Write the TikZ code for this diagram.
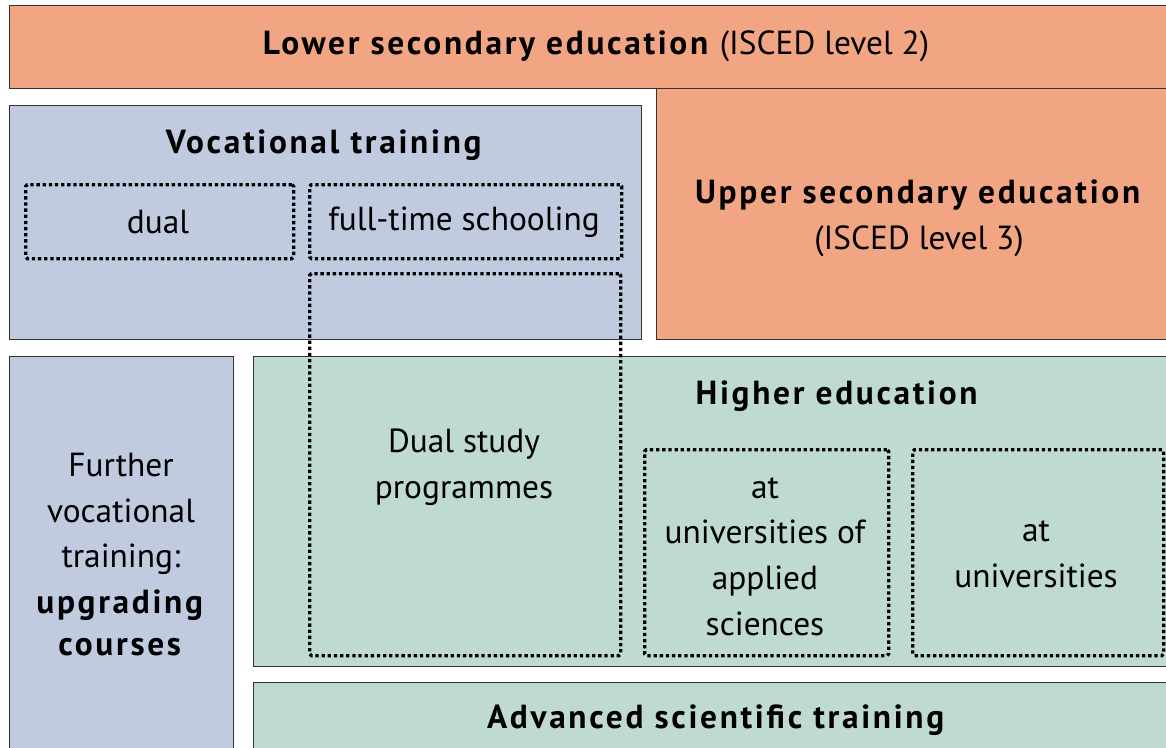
\documentclass[tikz,border=0pt]{standalone}
\usepackage{fontspec}
\setmainfont{PT Sans}[BoldFeatures={LetterSpace=8}]
\usepackage{xcolor}
\usetikzlibrary{positioning}

\definecolor{secorange}{HTML}{F2A582}
\definecolor{vocblue}{HTML}{C0CBDF}
\definecolor{unigreen}{HTML}{BFDBD0}

\tikzset{
	block/.style={draw=black!80, line width=0.6pt, anchor=north west, inner sep=0pt},
	dotbox/.style={draw=black, line width=1.9pt, dash pattern=on 1.9pt off 1.6pt, rounded corners=1pt, anchor=north west, inner sep=0pt},
	lbl/.style={align=center, inner sep=0pt, yshift=-0.05cm, font=\fontsize{19}{26}\selectfont},
}

\begin{document}
\begin{tikzpicture}[x=0.02cm, y=-0.02cm]

\useasboundingbox (0,0) rectangle (1166,747);

% coloured blocks
\node[block, fill=secorange, minimum width={1175*0.02cm}, minimum height={83*0.02cm}] (lower) at (9,5) {};
\node[block, fill=vocblue, minimum width={632*0.02cm}, minimum height={234*0.02cm}] (voc) at (9,105) {};
\node[block, fill=secorange, minimum width={528*0.02cm}, minimum height={251*0.02cm}] (upper) at (656,88) {};
\node[block, fill=vocblue, minimum width={224*0.02cm}, minimum height={410*0.02cm}] (further) at (9,356) {};
\node[block, fill=unigreen, minimum width={930*0.02cm}, minimum height={310*0.02cm}] (higher) at (253,356) {};
\node[block, fill=unigreen, minimum width={930*0.02cm}, minimum height={80*0.02cm}] (advanced) at (253,682) {};

% dotted sub boxes
\node[dotbox, minimum width={268*0.02cm}, minimum height={74*0.02cm}] (dual) at (24,183) {};
\node[dotbox, minimum width={312*0.02cm}, minimum height={74*0.02cm}] (fulltime) at (308,183) {};
\node[dotbox, minimum width={311*0.02cm}, minimum height={382*0.02cm}] (dualstudy) at (308,272) {};
\node[dotbox, minimum width={244*0.02cm}, minimum height={206*0.02cm}] (uas) at (643,448) {};
\node[dotbox, minimum width={251*0.02cm}, minimum height={206*0.02cm}] (uni) at (911,448) {};

% labels
\node[lbl] (lowertxt) at (596,44) {\textbf{Lower secondary education} (ISCED level 2)};
\node[lbl] (voctxt) at (325,143) {\textbf{Vocational training}};
\node[lbl] (dualtxt) at (158,220) {dual};
\node[lbl] (fulltimetxt) at (464,220) {full-time schooling};
\node[lbl] (uppertxt) at (919,216) {\textbf{Upper secondary education}\\(ISCED level 3)};
\node[lbl] (highertxt) at (838,394) {\textbf{Higher education}};
\node[lbl] (dualstudytxt) at (464,465) {Dual study\\programmes};
\node[lbl] (uastxt) at (765,554) {at\\universities of\\applied\\sciences};
\node[lbl] (unitxt) at (1036,552) {at\\universities};
\node[lbl] (furthertxt) at (121,552) {Further\\vocational\\training:\\\textbf{upgrading}\\[-2pt]\textbf{courses}};
\node[lbl] (advancedtxt) at (717,718) {\textbf{Advanced scientific training}};

\end{tikzpicture}
\end{document}
